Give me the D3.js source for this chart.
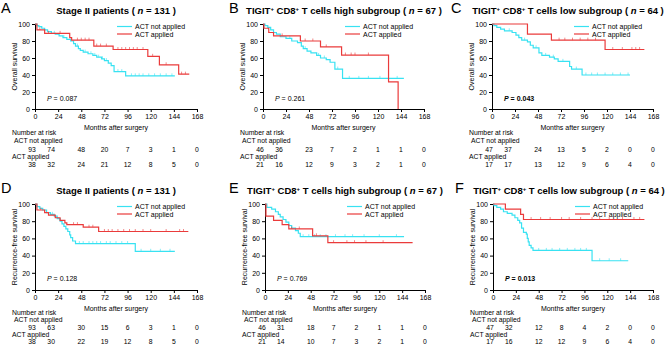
<!DOCTYPE html>
<html>
<head>
<meta charset="utf-8">
<script src="https://cdn.jsdelivr.net/npm/d3@7"></script>
<style>
body { margin: 0; background: #fff; }
svg text { font-family: "Liberation Sans", Arial, sans-serif; fill: #000; }
</style>
</head>
<body>
<div id="chart"></div>
<script>

// ---- data: step points [month, % surviving], curve end month, censored months ----
var xTicks = [0, 24, 48, 72, 96, 120, 144, 168];
var yTicks = [0, 20, 40, 60, 80, 100];
var seriesNames = ["ACT not applied", "ACT applied"];

// A: OS, stage II
var osAllNo = [[0,100],[2,98],[4,97],[7,95],[10,93],[13,91],[17,89],[21,88],[25,86],[29,84],[33,82],[37,80],[40,77],[42,74],[45,71],[47,69],[50,67],[55,65],[60,63],[64,61],[69,59],[72,57],[76,54],[79,51],[82,44],[94,39]];
var osAllNoEnd = 145;
var osAllNoCens = [20,30,44,52,58,62,66,70,74,86,90,100,104,108,112,118,124,130,136,142];
var osAllYes = [[0,100],[2,93],[10,89],[36,84],[38,81],[61,74],[81,70],[117,62],[129,52],[149,41]];
var osAllYesEnd = 160;
var osAllYesCens = [5,14,26,44,48,52,56,64,68,74,86,90,94,98,102,106,112,122,136,152,156];

// B: OS, TIGIT+ CD8+ high
var osHighNo = [[0,100],[2,98],[5,96],[8,93],[11,90],[14,88],[18,85],[24,83],[30,80],[36,78],[40,74],[42,71],[46,68],[50,66],[56,63],[60,60],[66,58],[70,55],[75,47],[83,36]];
var osHighNoEnd = 147;
var osHighNoCens = [28,44,58,64,78,90,100,110,122,140];
var osHighYes = [[0,100],[1,95],[6,90],[11,86],[39,80],[60,73],[82,63.5],[131,32],[141,0]];
var osHighYesEnd = 141;
var osHighYesCens = [20,44,52,66,86,92,96,110];

// C: OS, TIGIT+ CD8+ low
var osLowNo = [[0,100],[2,98],[5,96],[9,94],[13,92],[21,90],[25,87],[28,84],[31,81],[37,79],[40,75],[43,72],[49,66],[52,63],[60,61],[65,59],[69,56],[81,50],[83,47],[94,40]];
var osLowNoEnd = 144;
var osLowNoCens = [18,34,46,56,64,74,88,98,104,110,118,126,134,142];
var osLowYes = [[0,100],[37,88],[62,81],[118,70]];
var osLowYesEnd = 159;
var osLowYesCens = [70,76,84,92,100,108,126,136,146,150,154];

// D: RFS, stage II
var rfsAllNo = [[0,100],[2,97],[5,95],[8,93],[12,90],[16,88],[20,86],[23,83],[26,80],[28,77],[30,74],[32,71],[34,68],[36,64],[37,61],[39,57],[42,54],[104,45]];
var rfsAllNoEnd = 145;
var rfsAllNoCens = [18,46,50,56,60,64,68,74,78,84,90,96,110,120,130,140];
var rfsAllYes = [[0,100],[2,93],[10,90],[14,87],[21,84],[26,81],[31,78],[33,76],[50,73],[66,68]];
var rfsAllYesEnd = 159;
var rfsAllYesCens = [6,40,44,56,60,72,76,80,86,92,98,104,112,120,136,150,154];

// E: RFS, TIGIT+ CD8+ high
var rfsHighNo = [[0,100],[2,96],[7,94],[11,91],[14,88],[16,85],[19,82],[22,79],[25,75],[28,72],[32,69],[35,66],[37,62]];
var rfsHighNoEnd = 146;
var rfsHighNoCens = [40,46,52,58,64,74,84,92,104,120,138];
var rfsHighYes = [[0,100],[1,86],[9,81],[18,76],[25,71],[50,63],[66,55]];
var rfsHighYesEnd = 155;
var rfsHighYesCens = [28,36,54,72,86,94,106,124];

// F: RFS, TIGIT+ CD8+ low
var rfsLowNo = [[0,100],[1,98],[4,96],[8,94],[11,91],[15,89],[20,87],[23,84],[26,81],[28,78],[30,72],[32,67],[35,65],[36,60],[37,56],[38,52],[40,49],[42,46],[104,34]];
var rfsLowNoEnd = 142;
var rfsLowNoCens = [48,56,62,70,78,86,92,98,112,122,134];
var rfsLowYes = [[0,100],[13,94],[29,88],[32,82]];
var rfsLowYesEnd = 159;
var rfsLowYesCens = [40,50,60,72,80,92,104,112,122,136,148,154];

// numbers at risk at each x tick
var riskA = [[93,74,48,20,7,3,1,0],[38,32,24,21,12,8,5,0]];
var riskB = [[46,36,23,7,2,1,1,0],[21,16,12,9,3,2,1,0]];
var riskC = [[47,37,24,13,5,2,0,0],[17,17,13,12,9,6,4,0]];
var riskD = [[93,63,30,15,6,3,1,0],[38,30,22,19,12,8,5,0]];
var riskE = [[46,31,18,7,2,1,1,0],[21,14,10,7,3,2,1,0]];
var riskF = [[47,32,12,8,4,2,0,0],[17,16,12,12,9,6,4,0]];

var pValues = ["0.087", "0.261", "0.043", "0.128", "0.769", "0.013"];

// ---- layout ----
var colors = ["#38e2f2", "#ea3b3b"];
var W = 669, H = 347;

var svg = d3.select("#chart").append("svg")
    .attr("width", W)
    .attr("height", H);

var panels = [
    {letter: "A", lx: 1, tx: 116, kind: "stage", n: 131, ylab: "Overall survival", left: 35, right: 197, top: 24, bottom: 109,
     no: [osAllNo, osAllNoEnd, osAllNoCens], yes: [osAllYes, osAllYesEnd, osAllYesCens], risk: riskA, p: pValues[0], bold: false},
    {letter: "B", lx: 229, tx: 344, kind: "high", n: 67, ylab: "Overall survival", left: 263, right: 424, top: 24, bottom: 109,
     no: [osHighNo, osHighNoEnd, osHighNoCens], yes: [osHighYes, osHighYesEnd, osHighYesCens], risk: riskB, p: pValues[1], bold: false},
    {letter: "C", lx: 451, tx: 568, kind: "low", n: 64, ylab: "Overall survival", left: 492, right: 653, top: 24, bottom: 109,
     no: [osLowNo, osLowNoEnd, osLowNoCens], yes: [osLowYes, osLowYesEnd, osLowYesCens], risk: riskC, p: pValues[2], bold: true},
    {letter: "D", lx: 1, tx: 116, kind: "stage", n: 131, ylab: "Recurrence-free survival", left: 35, right: 197, top: 204, bottom: 290,
     no: [rfsAllNo, rfsAllNoEnd, rfsAllNoCens], yes: [rfsAllYes, rfsAllYesEnd, rfsAllYesCens], risk: riskD, p: pValues[3], bold: false},
    {letter: "E", lx: 229, tx: 345, kind: "high", n: 67, ylab: "Recurrence-free survival", left: 265, right: 425, top: 204, bottom: 290,
     no: [rfsHighNo, rfsHighNoEnd, rfsHighNoCens], yes: [rfsHighYes, rfsHighYesEnd, rfsHighYesCens], risk: riskE, p: pValues[4], bold: false},
    {letter: "F", lx: 455, tx: 569, kind: "low", n: 64, ylab: "Recurrence-free survival", left: 493, right: 653, top: 204, bottom: 290,
     no: [rfsLowNo, rfsLowNoEnd, rfsLowNoCens], yes: [rfsLowYes, rfsLowYesEnd, rfsLowYesCens], risk: riskF, p: pValues[5], bold: true}
];

// small nudges for the at-risk columns (first columns sit a bit left)
var colShift = [-3, -7, 0, 0, 0, 0, 0, 0];

function valueAt(pts, t) {
    var v = pts[0][1];
    pts.forEach(function(p) { if (p[0] <= t) v = p[1]; });
    return v;
}

panels.forEach(function(P) {
    var g = svg.append("g");
    var x = d3.scaleLinear().domain([0, 168]).range([P.left, P.right]);
    var y = d3.scaleLinear().domain([0, 100]).range([P.bottom, P.top]);
    var titleY = P.top - 10;
    var upper = P.top < 100;

    // panel letter
    g.append("text")
        .attr("x", P.lx).attr("y", titleY - 1)
        .style("font-size", "14.5px")
        .text(P.letter);

    // title
    var t = g.append("text")
        .attr("x", P.tx).attr("y", titleY)
        .attr("text-anchor", "middle")
        .style("font-size", "9.5px")
        .style("font-weight", "bold");
    if (P.kind === "stage") {
        t.append("tspan").text("Stage II patients ( ");
    } else {
        t.append("tspan").text("TIGIT");
        t.append("tspan").attr("dy", -3.5).style("font-size", "6px").text("+");
        t.append("tspan").attr("dy", 3.5).text(" CD8");
        t.append("tspan").attr("dy", -3.5).style("font-size", "6px").text("+");
        t.append("tspan").attr("dy", 3.5).text(" T cells " + P.kind + " subgroup ( ");
    }
    t.append("tspan").style("font-style", "italic").text("n");
    t.append("tspan").text(" = " + P.n + " )");

    // axes
    var xAxis = d3.axisBottom(x).tickValues(xTicks).tickSize(3).tickPadding(2);
    var yAxis = d3.axisLeft(y).tickValues(yTicks).tickSize(3).tickPadding(2);

    var gx = g.append("g")
        .attr("transform", "translate(0," + P.bottom + ")")
        .call(xAxis);
    var gy = g.append("g")
        .attr("transform", "translate(" + P.left + ",0)")
        .call(yAxis);
    [gx, gy].forEach(function(a) {
        a.selectAll("path").attr("d", null);
        a.selectAll("text").style("font-size", "7px").style("font-family", "Liberation Sans, Arial, sans-serif");
        a.selectAll("line").attr("stroke", "#000");
    });
    g.append("line").attr("x1", P.left).attr("x2", P.right)
        .attr("y1", P.bottom + 0.5).attr("y2", P.bottom + 0.5).attr("stroke", "#000");
    g.append("line").attr("x1", P.left + 0.5).attr("x2", P.left + 0.5)
        .attr("y1", P.top).attr("y2", P.bottom).attr("stroke", "#000");

    // axis titles
    g.append("text")
        .attr("x", (P.left + P.right) / 2).attr("y", P.bottom + 21)
        .attr("text-anchor", "middle")
        .style("font-size", "7px")
        .text("Months after surgery");
    g.append("text")
        .attr("transform", "translate(" + (P.left - 18.5) + "," + ((P.top + P.bottom) / 2) + ") rotate(-90)")
        .attr("text-anchor", "middle")
        .style("font-size", "7px")
        .text(P.ylab);

    // curves
    var line = d3.line()
        .x(function(d) { return x(d[0]); })
        .y(function(d) { return y(d[1]); })
        .curve(d3.curveStepAfter);

    [P.no, P.yes].forEach(function(s, i) {
        var pts = s[0].slice();
        pts.push([s[1], pts[pts.length - 1][1]]);
        g.append("path")
            .attr("d", line(pts))
            .attr("fill", "none")
            .attr("stroke", colors[i])
            .attr("stroke-width", 1.2);
        g.selectAll(null)
            .data(s[2])
            .enter().append("line")
            .attr("x1", function(d) { return x(d); })
            .attr("x2", function(d) { return x(d); })
            .attr("y1", function(d) { return y(valueAt(s[0], d)); })
            .attr("y2", function(d) { return y(valueAt(s[0], d)) - 2.5; })
            .attr("stroke", colors[i])
            .attr("stroke-width", 0.6);
    });

    // legend
    seriesNames.forEach(function(name, i) {
        var ly = P.top + 2.5 + i * 7.5;
        g.append("line")
            .attr("x1", P.left + 82).attr("x2", P.left + 97)
            .attr("y1", ly).attr("y2", ly)
            .attr("stroke", colors[i]).attr("stroke-width", 1.2);
        g.append("text")
            .attr("x", P.left + 100).attr("y", ly + 2.5)
            .style("font-size", "7px")
            .text(name);
    });

    // p value
    var pt = g.append("text")
        .attr("x", P.left + 12).attr("y", y(upper ? 9 : 11))
        .style("font-size", "7px")
        .style("font-weight", P.bold ? "bold" : "normal");
    pt.append("tspan").style("font-style", "italic").text("P");
    pt.append("tspan").text(" = " + P.p);

    // number at risk table
    var ry = upper ? P.bottom + 26 : P.bottom + 25;
    var rows = upper ? [0, 8, 17, 24, 32] : [0, 7, 14.5, 21.5, 28.5];
    g.append("text").attr("x", P.left - 23).attr("y", ry + rows[0])
        .style("font-size", "6.8px").text("Number at risk");
    g.append("text").attr("x", P.left - 21).attr("y", ry + rows[1])
        .style("font-size", "6.8px").text(seriesNames[0]);
    g.append("text").attr("x", P.left - 23).attr("y", ry + rows[3])
        .style("font-size", "6.8px").text(seriesNames[1]);
    P.risk.forEach(function(row, r) {
        g.selectAll(null)
            .data(row)
            .enter().append("text")
            .attr("x", function(d, i) { return x(xTicks[i]) + colShift[i]; })
            .attr("y", ry + rows[2 + r * 2])
            .attr("text-anchor", "middle")
            .style("font-size", "6.8px")
            .text(function(d) { return d; });
    });
});

</script>
</body>
</html>
